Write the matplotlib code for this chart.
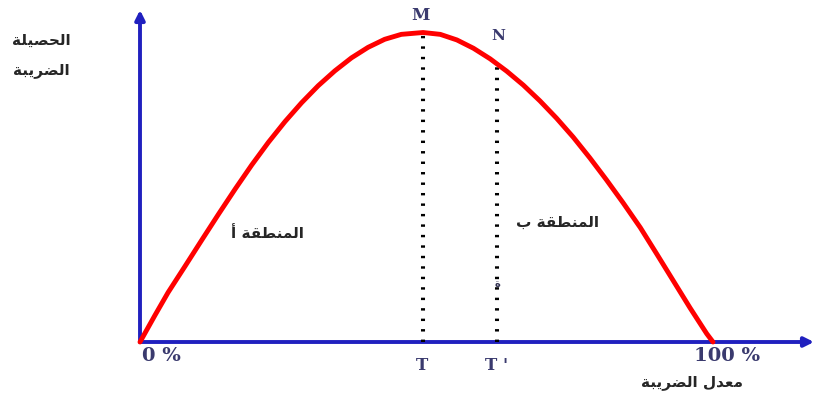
import matplotlib
matplotlib.use("Agg")
import matplotlib.pyplot as plt

# ---- data (tax rate in %, tax revenue in % of max) ----
tax_rate = [0, 2.6, 4.9, 7.9, 10.8, 13.7, 16.6, 19.5, 22.4, 25.3, 28.2,
            31.1, 34.0, 36.9, 39.8, 42.7, 45.6, 49.4, 52.4, 55.3, 58.2,
            61.1, 64.0, 66.9, 69.8, 72.7, 75.6, 78.5, 81.4, 84.3, 87.3,
            90.2, 93.1, 96.0, 98.9, 100]
revenue = [0, 8.6, 16.0, 24.6, 33.0, 41.3, 49.4, 57.2, 64.5, 71.2, 77.3,
           82.8, 87.6, 91.8, 95.2, 97.8, 99.4, 100, 99.4, 97.6, 94.9,
           91.5, 87.5, 83.0, 77.9, 72.3, 66.2, 59.5, 52.4, 45.0, 37.0,
           28.4, 19.7, 11.0, 2.7, 0]
point_names = ["M", "N"]
point_rates = [49.4, 62.3]
point_revenues = [100, 90.4]
point_ticks = ["T", "T '"]
x_tick_labels = ["0 %", "100 %"]
y_title = ["الحصيلة", "الضريبة"]
x_title = "معدل الضريبة"
zone_labels = ["المنطقة أ", "المنطقة ب"]
stray_mark = "ة"

# ---- minimal Arabic shaping (contextual forms + RTL order) ----
FORMS = {  # isolated, final, initial, medial
    'ا': ('\uFE8D', '\uFE8E', None, None),
    'أ': ('\uFE83', '\uFE84', None, None),
    'ل': ('\uFEDD', '\uFEDE', '\uFEDF', '\uFEE0'),
    'ح': ('\uFEA1', '\uFEA2', '\uFEA3', '\uFEA4'),
    'ص': ('\uFEB9', '\uFEBA', '\uFEBB', '\uFEBC'),
    'ي': ('\uFEF1', '\uFEF2', '\uFEF3', '\uFEF4'),
    'ة': ('\uFE93', '\uFE94', None, None),
    'ض': ('\uFEBD', '\uFEBE', '\uFEBF', '\uFEC0'),
    'ر': ('\uFEAD', '\uFEAE', None, None),
    'ب': ('\uFE8F', '\uFE90', '\uFE91', '\uFE92'),
    'م': ('\uFEE1', '\uFEE2', '\uFEE3', '\uFEE4'),
    'ن': ('\uFEE5', '\uFEE6', '\uFEE7', '\uFEE8'),
    'ط': ('\uFEC1', '\uFEC2', '\uFEC3', '\uFEC4'),
    'ق': ('\uFED5', '\uFED6', '\uFED7', '\uFED8'),
    'ع': ('\uFEC9', '\uFECA', '\uFECB', '\uFECC'),
    'د': ('\uFEA9', '\uFEAA', None, None),
}


def shape(s):
    out = []
    for i, c in enumerate(s):
        if c not in FORMS:
            out.append(c)
            continue
        prev = s[i - 1] if i > 0 else None
        nxt = s[i + 1] if i + 1 < len(s) else None
        jp = prev in FORMS and FORMS[prev][2] is not None
        jn = FORMS[c][2] is not None and nxt in FORMS
        iso, fin, ini, med = FORMS[c]
        if jp and jn:
            out.append(med)
        elif jp:
            out.append(fin)
        elif jn:
            out.append(ini)
        else:
            out.append(iso)
    return ''.join(reversed(out))


# ---- figure ----
fig = plt.figure(figsize=(8.16, 3.99), dpi=100)
ax = fig.add_axes([0, 0, 1, 1])
sx, sy = 5.73, 3.095
ax.set_xlim(-140 / sx, (816 - 140) / sx)
ax.set_ylim((342 - 399) / sy, 342 / sy)
ax.axis("off")

blue = "#2020bf"
# axes with arrows
ax.annotate("", xy=(0, (342 - 10) / sy), xytext=(0, 0),
            arrowprops=dict(arrowstyle="-|>", color=blue, lw=2.8,
                            mutation_scale=14, shrinkA=0, shrinkB=0))
ax.annotate("", xy=((814 - 140) / sx, 0), xytext=(0, 0),
            arrowprops=dict(arrowstyle="-|>", color=blue, lw=2.8,
                            mutation_scale=14, shrinkA=0, shrinkB=0))

# dotted verticals
for r, v in zip(point_rates, point_revenues):
    ax.plot([r, r], [0, v], color="black", lw=2.9,
            linestyle=(0, (0.6, 2.0)), dash_capstyle="butt", zorder=3)

# curve
ax.plot(tax_rate, revenue, color="#ff0000", lw=3.5, zorder=4,
        solid_joinstyle="round", solid_capstyle="round")

serif = dict(family="DejaVu Serif", weight="bold", color="#3a3a6e")
ax.text(point_rates[0] - 0.5, (342 - 15) / sy, point_names[0], ha="center",
        va="center", fontsize=12, **serif)
ax.text(point_rates[1] + 0.3, (342 - 36) / sy, point_names[1], ha="center",
        va="center", fontsize=11, **serif)
ax.text(point_rates[0] - 0.1, (342 - 366) / sy, point_ticks[0], ha="center",
        va="center", fontsize=12, **serif)
ax.text(point_rates[1] + 0.0, (342 - 366) / sy, point_ticks[1], ha="center",
        va="center", fontsize=12, **serif)
ax.text((161 - 140) / sx, (342 - 356) / sy, x_tick_labels[0], ha="center",
        va="center", fontsize=14, **serif)
ax.text((727 - 140) / sx, (342 - 356) / sy, x_tick_labels[1], ha="center",
        va="center", fontsize=14, **serif)

ar = dict(family=["DejaVu Sans"], weight="bold", color="#262626",
          fontsize=11)
ax.text((41 - 140) / sx, (342 - 40) / sy, shape(y_title[0]), ha="center",
        va="center", **ar)
ax.text((41 - 140) / sx, (342 - 70) / sy, shape(y_title[1]), ha="center",
        va="center", **ar)
ax.text((267 - 140) / sx, (342 - 234) / sy, shape(zone_labels[0]),
        ha="center", va="center", **ar)
ax.text((557 - 140) / sx, (342 - 222) / sy, shape(zone_labels[1]),
        ha="center", va="center", **ar)
ax.text((692 - 140) / sx, (342 - 383) / sy, shape(x_title), ha="center",
        va="center", **ar)
ax.text(point_rates[1], (342 - 284) / sy, shape(stray_mark), ha="center",
        va="center", family=["DejaVu Sans"], weight="bold",
        color="#303050", fontsize=7, zorder=5)

fig.savefig("out.png", dpi=100)
